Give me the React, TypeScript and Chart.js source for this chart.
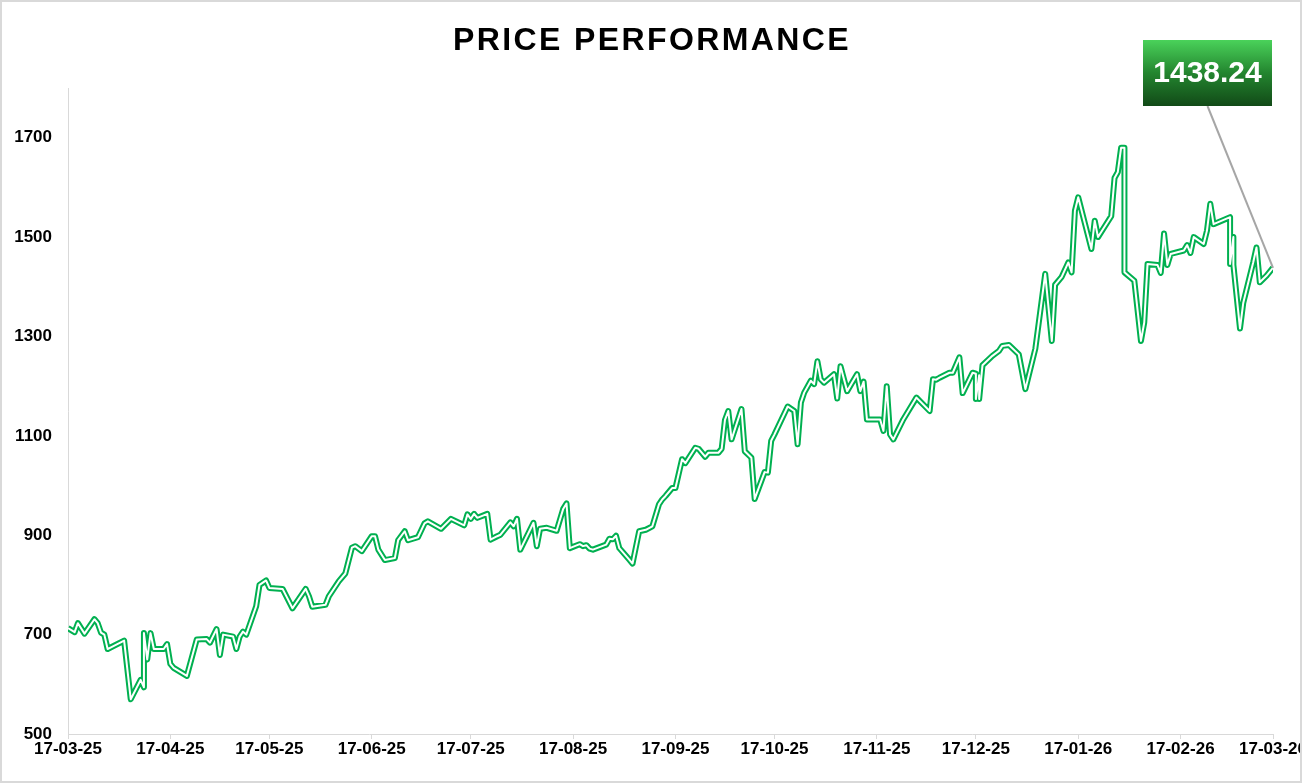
import React, { useEffect, useRef } from 'react';
import { Chart, registerables } from 'chart.js';

Chart.register(...registerables);

const TITLE = 'PRICE PERFORMANCE';
const LAST_PRICE_LABEL = '1438.24';

// x = days since 17-03-25
const dayOffsets = [
  0, 2, 3, 5, 8, 9, 10, 11, 12, 17, 19, 22, 23, 23, 24, 25, 26, 29, 30, 31,
  32, 36, 39, 42, 43, 45, 46, 47, 50, 51, 52, 53, 54, 57, 58, 60, 61, 65, 68, 72,
  73, 74, 78, 79, 82, 84, 86, 87, 89, 92, 93, 94, 96, 99, 100, 102, 103, 106, 108, 109,
  113, 116, 120, 121, 122, 123, 124, 127, 128, 130, 131, 134, 135, 136, 137, 141, 142, 143, 145, 148,
  150, 151, 152, 155, 156, 157, 158, 159, 163, 164, 165, 166, 167, 170, 171, 173, 175, 177, 179, 180,
  181, 183, 184, 186, 187, 190, 191, 193, 194, 197, 198, 199, 200, 201, 204, 205, 207, 208, 211, 212,
  213, 214, 218, 220, 221, 222, 223, 225, 226, 227, 228, 229, 232, 233, 234, 236, 239, 240, 241, 242,
  246, 247, 248, 249, 250, 253, 257, 261, 262, 263, 264, 267, 268, 270, 271, 274, 275, 275, 276, 276,
  277, 280, 282, 283, 285, 288, 290, 293, 296, 298, 299, 301, 303, 304, 305, 306, 310, 311, 312, 316,
  317, 318, 319, 320, 320, 323, 325, 326, 327, 330, 331, 332, 333, 334, 338, 339, 340, 341, 344, 345,
  346, 347, 352, 352, 353, 353, 355, 356, 359, 360, 361, 363, 365,
];

const prices = [
  713, 705, 723, 702, 731, 723, 704, 700, 671, 688, 570, 609, 594, 703, 650, 703, 671, 671, 681, 641,
  633, 617, 690, 691, 684, 711, 659, 700, 696, 671, 696, 706, 700, 757, 800, 809, 794, 792, 753, 792,
  777, 756, 760, 777, 807, 823, 875, 878, 868, 898, 898, 871, 850, 854, 890, 908, 890, 896, 924, 928,
  913, 933, 920, 942, 933, 943, 935, 943, 891, 898, 901, 926, 918, 933, 871, 925, 878, 913, 915, 909,
  953, 964, 874, 882, 878, 880, 873, 871, 881, 893, 892, 899, 874, 851, 843, 908, 911, 918, 962, 972,
  979, 995, 995, 1053, 1045, 1076, 1074, 1058, 1066, 1066, 1074, 1132, 1150, 1093, 1154, 1069, 1056, 973, 1027, 1026,
  1090, 1103, 1159, 1150, 1083, 1167, 1187, 1211, 1204, 1250, 1214, 1207, 1224, 1175, 1240, 1190, 1224, 1190, 1209, 1133,
  1133, 1110, 1200, 1103, 1093, 1133, 1177, 1150, 1214, 1213, 1217, 1227, 1227, 1258, 1186, 1227, 1225, 1174, 1222, 1174,
  1242, 1261, 1271, 1281, 1283, 1264, 1194, 1275, 1426, 1291, 1404, 1420, 1449, 1429, 1553, 1580, 1476, 1533, 1500, 1542,
  1619, 1631, 1680, 1680, 1429, 1412, 1291, 1328, 1446, 1444, 1428, 1507, 1444, 1466, 1473, 1484, 1468, 1500, 1486, 1513,
  1567, 1526, 1540, 1446, 1500, 1444, 1316, 1368, 1449, 1479, 1409, 1422, 1438.24,
];

const monthTickDays = [0, 31, 61, 92, 122, 153, 184, 214, 245, 275, 306, 337, 365];
const monthTickLabels = [
  '17-03-25', '17-04-25', '17-05-25', '17-06-25', '17-07-25', '17-08-25', '17-09-25',
  '17-10-25', '17-11-25', '17-12-25', '17-01-26', '17-02-26', '17-03-26',
];
const yTickValues = [500, 700, 900, 1100, 1300, 1500, 1700];

const FONT = '"Liberation Sans", Arial, sans-serif';
const GREEN = '#00B050';
const AXIS_GRAY = '#D9D9D9';

const decorPlugin = {
  id: 'decor',
  beforeDraw(chart: any) {
    const ctx = chart.ctx;
    ctx.save();
    ctx.fillStyle = '#ffffff';
    ctx.fillRect(0, 0, chart.width, chart.height);
    ctx.restore();
  },
  afterDraw(chart: any) {
    const ctx = chart.ctx;
    const xs = chart.scales.x;
    const ys = chart.scales.y;
    ctx.save();
    // title
    ctx.fillStyle = '#000000';
    ctx.font = `bold 32px ${FONT}`;
    ctx.textAlign = 'center';
    ctx.textBaseline = 'alphabetic';
    (ctx as any).letterSpacing = '2.4px';
    ctx.fillText(TITLE, 652, 50);
    (ctx as any).letterSpacing = '0px';

    // leader line
    const bx = 1143, by = 40, bw = 129, bh = 66;
    const lastX = xs.getPixelForValue(dayOffsets[dayOffsets.length - 1]);
    const lastY = ys.getPixelForValue(prices[prices.length - 1]);
    ctx.strokeStyle = '#A6A6A6';
    ctx.lineWidth = 2;
    ctx.beginPath();
    ctx.moveTo(bx + bw / 2, by + bh);
    ctx.lineTo(lastX, lastY);
    ctx.stroke();

    // label box
    const grad = ctx.createLinearGradient(0, by, 0, by + bh);
    grad.addColorStop(0, '#4AD25A');
    grad.addColorStop(0.5, '#23852F');
    grad.addColorStop(1, '#124A17');
    ctx.fillStyle = grad;
    ctx.fillRect(bx, by, bw, bh);
    ctx.fillStyle = '#ffffff';
    ctx.font = `bold 30px ${FONT}`;
    ctx.textAlign = 'center';
    ctx.textBaseline = 'middle';
    ctx.fillText(LAST_PRICE_LABEL, bx + bw / 2, by + bh / 2 + 1);

    // outer border
    ctx.strokeStyle = AXIS_GRAY;
    ctx.lineWidth = 2;
    ctx.strokeRect(1, 1, chart.width - 2, chart.height - 2);
    ctx.restore();
  },
};

export default function App() {
  const ref = useRef<HTMLCanvasElement | null>(null);

  useEffect(() => {
    if (!ref.current) return;
    const points = dayOffsets.map((d, i) => ({ x: d, y: prices[i] }));
    const chart = new Chart(ref.current, {
      type: 'line',
      data: {
        datasets: [
          {
            data: points,
            borderColor: '#ffffff',
            borderWidth: 2,
            pointRadius: 0,
            tension: 0,
            borderJoinStyle: 'round',
            borderDash: [100000, 0],
          },
          {
            data: points,
            borderColor: GREEN,
            borderWidth: 6,
            pointRadius: 0,
            tension: 0,
            borderJoinStyle: 'round',
            borderDash: [100000, 0],
          },
        ],
      },
      options: {
        responsive: false,
        animation: false,
        devicePixelRatio: 1,
        layout: { padding: { top: 88, left: 0, right: 29, bottom: 0 } },
        plugins: {
          legend: { display: false },
          tooltip: { enabled: false },
          title: { display: false },
        },
        scales: {
          x: {
            type: 'linear',
            min: 0,
            max: 365,
            afterBuildTicks: (s: any) => {
              s.ticks = monthTickDays.map((v) => ({ value: v }));
            },
            afterFit: (s: any) => {
              s.height = 49;
              s.paddingLeft = 0;
              s.paddingRight = 0;
            },
            ticks: {
              autoSkip: false,
              maxRotation: 0,
              minRotation: 0,
              padding: 0,
              color: '#000000',
              font: { family: FONT, size: 17, weight: 'bold' },
              callback: (_v: any, i: number) => monthTickLabels[i],
            },
            grid: {
              display: true,
              drawOnChartArea: false,
              drawTicks: true,
              tickLength: 5,
              color: AXIS_GRAY,
            },
            border: { display: true, color: AXIS_GRAY, width: 1 },
          },
          y: {
            type: 'linear',
            min: 500,
            max: 1800,
            afterBuildTicks: (s: any) => {
              s.ticks = yTickValues.map((v) => ({ value: v }));
            },
            afterFit: (s: any) => {
              s.width = 68;
            },
            ticks: {
              padding: 16,
              color: '#000000',
              font: { family: FONT, size: 17, weight: 'bold' },
              callback: (v: any) => String(v),
            },
            grid: { display: false, drawTicks: false },
            border: { display: true, color: AXIS_GRAY, width: 1 },
          },
        },
      },
      plugins: [decorPlugin],
    } as any);
    return () => chart.destroy();
  }, []);

  return (
    <div style={{ position: 'fixed', left: 0, top: 0, width: 1302, height: 783, background: '#fff' }}>
      <canvas ref={ref} width={1302} height={783} style={{ display: 'block', width: 1302, height: 783 }} />
    </div>
  );
}
